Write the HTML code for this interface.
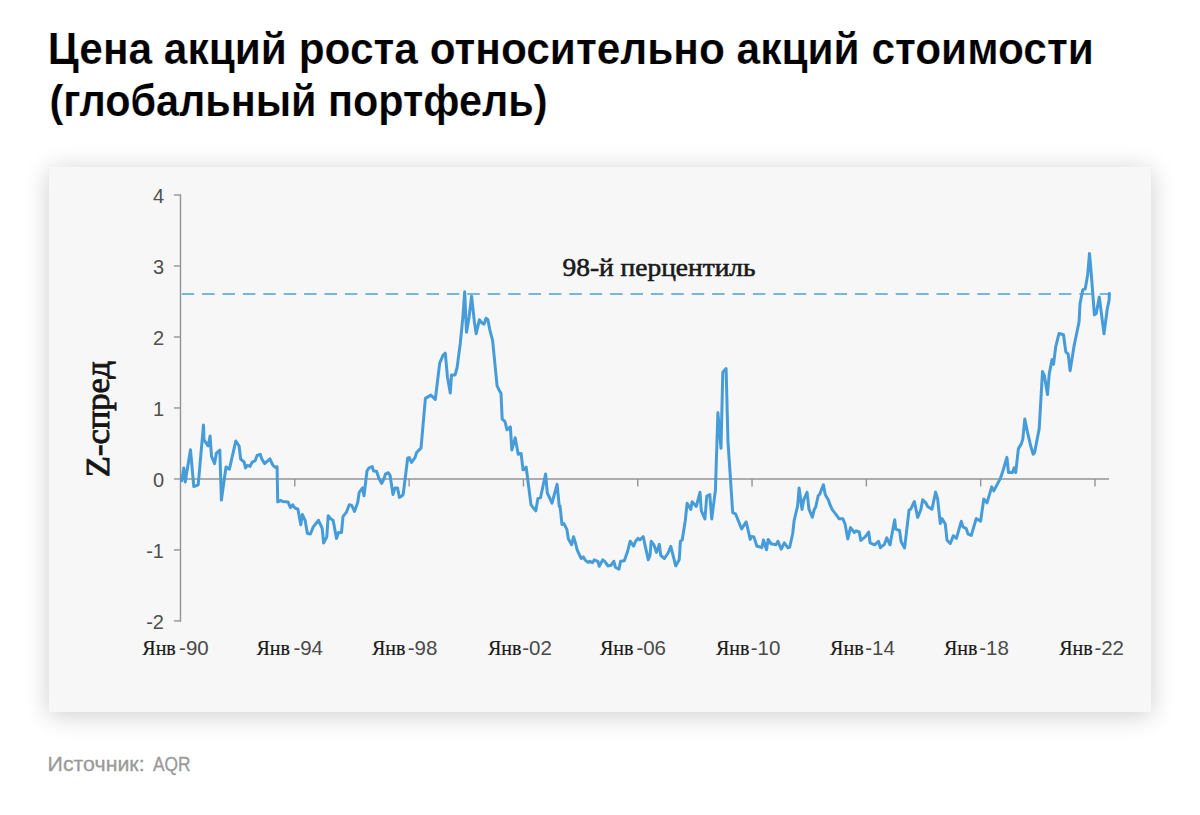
<!DOCTYPE html>
<html><head><meta charset="utf-8">
<style>
html,body{margin:0;padding:0;background:#fff;width:1200px;height:815px;overflow:hidden}
body{position:relative;font-family:"Liberation Sans",sans-serif}
.panel{position:absolute;left:49px;top:167px;width:1102px;height:545px;background:#f7f7f7;box-shadow:0 3px 24px rgba(0,0,0,0.2)}
svg{position:absolute;left:0;top:0}
</style></head><body>
<div class="panel"></div>
<svg width="1200" height="815" viewBox="0 0 1200 815">
<g font-family="Liberation Sans" font-weight="bold" font-size="45" fill="#000" stroke="#fff" stroke-width="0.2" stroke-linejoin="round">
<text x="47.8" y="64.2" textLength="1046" lengthAdjust="spacingAndGlyphs">Цена акций роста относительно акций стоимости</text>
<text x="49.5" y="116" textLength="498" lengthAdjust="spacingAndGlyphs">(глобальный портфель)</text>
</g>
<g stroke="#949494" stroke-width="1.4" fill="none">
<line x1="180.5" y1="194.23" x2="180.5" y2="621.71"/>
<line x1="180.5" y1="478.95" x2="1109" y2="478.95"/>
<line x1="173.9" y1="195.03" x2="180.5" y2="195.03"/><line x1="173.9" y1="266.01" x2="180.5" y2="266.01"/><line x1="173.9" y1="336.99" x2="180.5" y2="336.99"/><line x1="173.9" y1="407.97" x2="180.5" y2="407.97"/><line x1="173.9" y1="478.95" x2="180.5" y2="478.95"/><line x1="173.9" y1="549.93" x2="180.5" y2="549.93"/><line x1="173.9" y1="620.91" x2="180.5" y2="620.91"/><line x1="294.81" y1="478.95" x2="294.81" y2="486.45"/><line x1="409.12" y1="478.95" x2="409.12" y2="486.45"/><line x1="523.43" y1="478.95" x2="523.43" y2="486.45"/><line x1="637.74" y1="478.95" x2="637.74" y2="486.45"/><line x1="752.05" y1="478.95" x2="752.05" y2="486.45"/><line x1="866.36" y1="478.95" x2="866.36" y2="486.45"/><line x1="980.67" y1="478.95" x2="980.67" y2="486.45"/><line x1="1094.98" y1="478.95" x2="1094.98" y2="486.45"/>
</g>
<g font-family="Liberation Sans" font-size="20" fill="#505050" text-anchor="end"><text x="164" y="202.83">4</text><text x="164" y="273.81">3</text><text x="164" y="344.79">2</text><text x="164" y="415.77">1</text><text x="164" y="486.75">0</text><text x="164" y="557.73">-1</text><text x="164" y="628.71">-2</text></g>
<g font-family="Liberation Sans" font-size="20"><text x="142.30" y="654.8" font-family="Liberation Serif" fill="#1a1a1a" stroke="#1a1a1a" stroke-width="0.2">Янв</text><text x="179.10" y="654.8" fill="#4a4a4a" font-size="20.5">-90</text><text x="256.50" y="654.8" font-family="Liberation Serif" fill="#1a1a1a" stroke="#1a1a1a" stroke-width="0.2">Янв</text><text x="293.40" y="654.8" fill="#4a4a4a" font-size="20.5">-94</text><text x="371.90" y="654.8" font-family="Liberation Serif" fill="#1a1a1a" stroke="#1a1a1a" stroke-width="0.2">Янв</text><text x="407.80" y="654.8" fill="#4a4a4a" font-size="20.5">-98</text><text x="488.00" y="654.8" font-family="Liberation Serif" fill="#1a1a1a" stroke="#1a1a1a" stroke-width="0.2">Янв</text><text x="522.30" y="654.8" fill="#4a4a4a" font-size="20.5">-02</text><text x="599.90" y="654.8" font-family="Liberation Serif" fill="#1a1a1a" stroke="#1a1a1a" stroke-width="0.2">Янв</text><text x="636.40" y="654.8" fill="#4a4a4a" font-size="20.5">-06</text><text x="715.90" y="654.8" font-family="Liberation Serif" fill="#1a1a1a" stroke="#1a1a1a" stroke-width="0.2">Янв</text><text x="750.80" y="654.8" fill="#4a4a4a" font-size="20.5">-10</text><text x="830.10" y="654.8" font-family="Liberation Serif" fill="#1a1a1a" stroke="#1a1a1a" stroke-width="0.2">Янв</text><text x="865.20" y="654.8" fill="#4a4a4a" font-size="20.5">-14</text><text x="943.90" y="654.8" font-family="Liberation Serif" fill="#1a1a1a" stroke="#1a1a1a" stroke-width="0.2">Янв</text><text x="979.20" y="654.8" fill="#4a4a4a" font-size="20.5">-18</text><text x="1059.20" y="654.8" font-family="Liberation Serif" fill="#1a1a1a" stroke="#1a1a1a" stroke-width="0.2">Янв</text><text x="1094.40" y="654.8" fill="#4a4a4a" font-size="20.5">-22</text></g>
<line x1="181.7" y1="294" x2="1109.4" y2="294" stroke="#78b6e2" stroke-width="2" stroke-dasharray="12.5 7.9"/>
<text x="562.5" y="276" font-family="Liberation Serif" font-size="26" fill="#1a1a1a" stroke="#1a1a1a" stroke-width="0.6" textLength="193" lengthAdjust="spacingAndGlyphs">98-й перцентиль</text>
<text transform="translate(109.4,477.2) rotate(-90)" font-family="Liberation Serif" font-size="33.3" fill="#151515" stroke="#151515" stroke-width="0.9" textLength="116.3" lengthAdjust="spacingAndGlyphs">Z-спред</text>
<polyline points="181.6,480.7 183.8,468 185.2,481.9 190.5,449.8 193.8,486.6 198.2,484.8 203.5,425 204,439.9 208.1,446 210.1,436 211.5,456.4 214.6,463.6 216.4,453.1 219.8,450.1 221.4,500.1 226,467 229.4,469.1 235.8,441 239.1,446 240.7,459.2 244.1,462 245.5,468 247.4,465.3 250.1,466.4 252.2,462.1 255.2,460.6 257.1,455.5 260.3,454.3 261.8,459.1 264.7,463.6 269.9,458.9 272.8,465 275,467.2 277.1,466.8 277.7,501.9 280.9,500.4 282.7,501.6 288,501.9 290.5,507.7 292.7,504.8 294.9,508 297.9,509.2 300.8,524.7 302.3,514.4 305.2,520.7 307.4,533.5 310.4,534 313.3,526.9 318.5,520.3 322.2,528.4 323.6,543.1 326.6,537.2 326.8,536.5 328.2,515.8 330.6,518.8 333.1,520.3 336.5,538.4 338.5,532.5 341.5,532.5 343,516.6 346.4,512.2 349.3,504.8 351.8,505.5 354.5,511.4 357.7,502.6 359.2,492.3 362.6,487.9 364,495.7 367,470.9 368.9,468 372.1,466.5 373.6,470.9 376.5,471.2 379.2,479 381.7,483.4 383.9,479 385.4,474.2 388.3,472.7 390.1,475.6 393,494.5 395,487.9 397.5,487.9 399.4,497.4 402.8,495.2 403.3,493.4 407.7,458 409.3,457.6 411.5,462.5 415,457.6 416.6,452.5 421,448.1 425.4,398.4 430.9,395.1 435.3,399.5 439.7,363.1 443,355.4 445.3,353.2 447.5,377.5 450.3,392.9 451.5,374.9 455.1,374.9 457.1,367.5 460.3,343.2 462.9,316.8 464.7,291.8 466.5,332.2 469.1,316.8 471.6,296.2 474.3,321.2 476.2,333.7 479.4,319.7 481.6,322.6 484.1,324.1 486,318.2 487.9,319.7 489.7,329.3 492.6,340.3 497.1,385.9 500,391.8 501,393.4 502.2,419.2 505,421.7 507,429.8 510.4,426.9 511.8,450 515.2,437.7 518.2,454.3 521.1,453.5 523,469.8 526.2,467.2 531,504.9 535.8,510.9 537.9,498.4 540.5,497.7 545.6,474 547.3,492.9 552,503.2 557.1,484.3 559.3,506.6 560,505.9 562,524.5 563.9,523.6 566.9,529.4 568.3,538.8 571.6,544.7 573.5,536.8 575.2,542.2 577.2,550 581.1,558.4 583.4,556.9 585,559.9 588,562.3 589.9,561.3 592.4,562.8 594.3,559.9 597.8,561.3 599.3,566.2 602.7,559.9 604.7,561.3 608.1,566 611,565.3 613.8,561.3 615.4,567.2 618.9,569.2 620.6,561.3 624.3,560.8 627.7,551 630.2,541.2 633.6,546.1 635.6,541.2 638.1,538.3 639.9,539.9 643.3,536.7 645.4,546.9 648.3,559.8 650,555.5 651.2,541.3 654,545 656.5,552.4 659.3,544.4 660.8,555.5 664.4,558.5 668.1,553 670.8,546.3 675.7,565.9 679.2,559.8 680.4,541.3 682.2,540.1 685.3,520.5 687.1,503.3 690.8,509.4 692.1,501.8 696.3,506.4 700,492.3 701.3,510.7 704.9,519 706.8,496 709.8,494.5 711.7,519 715.4,490.4 717.9,412.8 721,448.3 722.8,372.3 726.1,368.6 728,442 732.7,512.6 735.5,513.8 741.6,528.9 746.2,521.9 750.2,539.4 751.5,536.4 753.9,536.9 756.9,546.2 759.3,546.7 761.8,547.7 763.5,539.9 766.5,549.7 768.2,539.4 771.1,543.8 776,544.8 778,541.3 781.2,549.2 784.3,542.8 787.8,547.7 789.7,547.2 792.7,533.5 794.2,520.2 797.6,506 799.1,487.9 802,509.4 803.8,499.6 807.1,492.3 808.9,508.9 812.3,517.3 814.3,509.4 815.7,507 818.2,495.7 819.7,494.2 823.4,484.7 825.3,494.7 828.4,500.1 829.9,504.5 832.4,509.9 834.8,512.9 839.2,518.8 842.9,518.8 845.1,524.2 847.8,538.9 850.5,527.6 854.4,532.5 856.2,530.8 859.3,532 860.8,540.4 865.2,536.9 868.7,532 870.1,542.8 874.6,544.8 878.5,541.3 880.4,547.7 884.4,544.3 886.8,537.9 890,544.8 894.7,519.7 895.7,529.1 899.6,530.5 901.1,541.8 904.6,547.9 909.1,509.8 910.8,509.2 914.4,501.5 917.7,517.5 920.8,509.8 922.7,499.8 926,503.1 927.6,506.5 932,509.2 935.6,492.1 937.6,498.7 940.3,523.6 942,518.6 945.3,524.1 947,540.2 950.3,543.5 953.3,535.7 956.4,538.3 961.3,521.4 963,526.9 966.3,528.6 968,534.1 971.3,535.4 976.2,518.6 980.6,521.2 983.8,498.9 987,502.9 991.7,486.9 993.8,490.9 1000.5,478.1 1002.9,471 1006.9,457.4 1008.5,472.6 1012.5,472.6 1014.1,467.8 1015.7,472.6 1018.4,448.6 1021.3,443.9 1022.8,439.1 1024.8,419.1 1027.6,432.7 1030.8,446.3 1033.2,454.2 1034.6,452.5 1039.2,428.6 1042.5,371.6 1044.3,375.3 1047.5,394.6 1049.3,373.4 1052.1,359.6 1053.5,364.2 1055.7,346.8 1059,333.5 1063.5,334.8 1065.8,351.9 1068.2,354.1 1070.1,370.7 1074.1,345.8 1079.1,321.6 1080,303.8 1082.8,289.7 1085.2,289.1 1087.7,274.4 1089.5,253.6 1091,270.7 1094.4,314.9 1096.2,313.6 1099.3,297.1 1104,333.8 1107.3,308.7 1109.1,300.1 1109.4,293.4" fill="none" stroke="#469cd8" stroke-width="3" stroke-linejoin="round" stroke-linecap="round"/>
<g font-family="Liberation Sans" font-size="20" fill="#9a9a9a" stroke="#9a9a9a" stroke-width="0.3"><text x="47.6" y="770.6" textLength="97" lengthAdjust="spacingAndGlyphs">Источник:</text><text x="153" y="770.6" textLength="37.6" lengthAdjust="spacingAndGlyphs">AQR</text></g>
</svg>
</body></html>
